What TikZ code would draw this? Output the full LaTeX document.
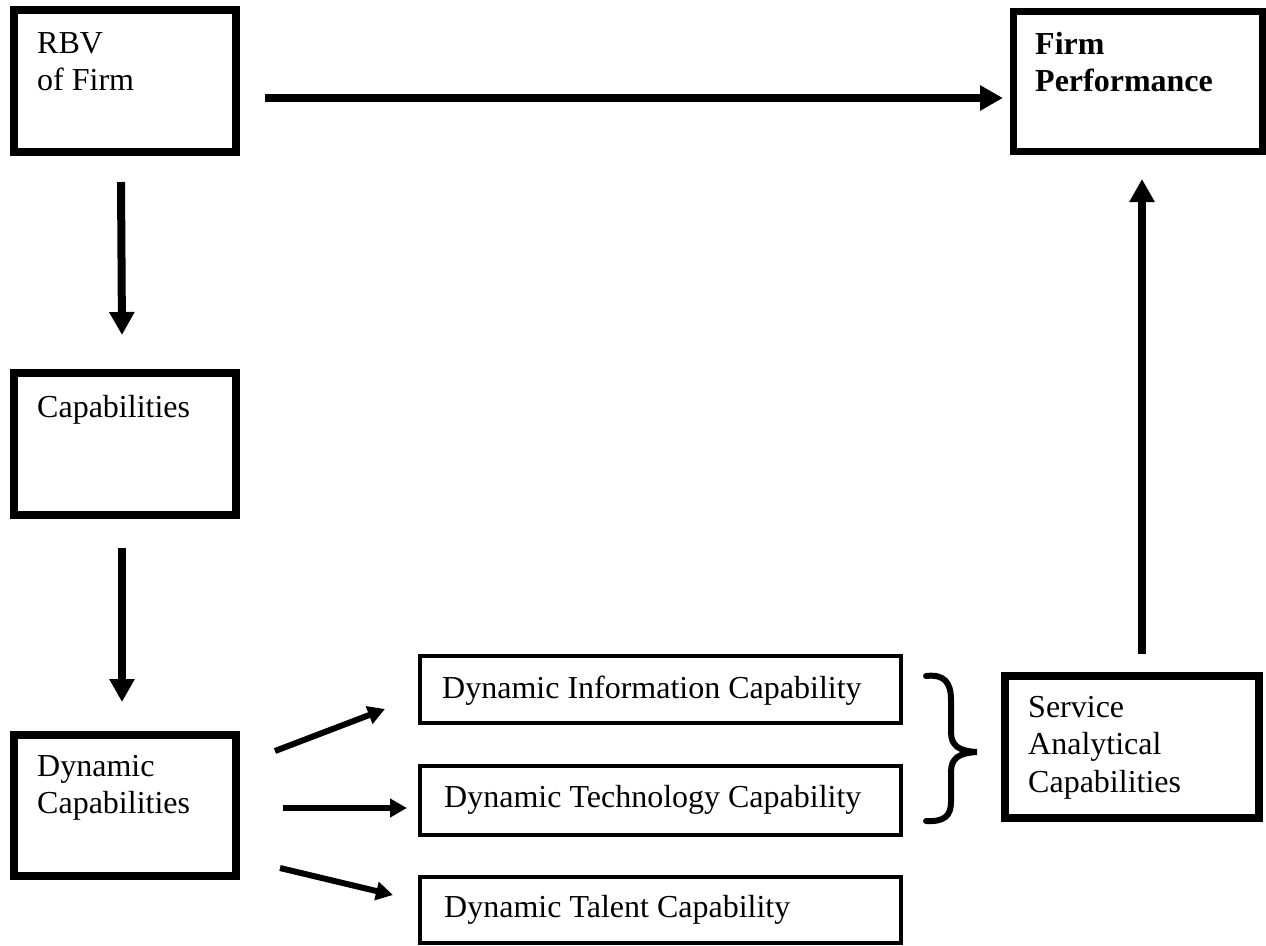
\documentclass[tikz,border=0pt]{standalone}
\usepackage{fontspec}
\setmainfont{Liberation Serif}
\usetikzlibrary{arrows.meta}
\begin{document}
\begin{tikzpicture}[x=1pt,y=-1pt,
  heavybox/.style={draw=black, line width=8pt, inner sep=0pt, rectangle},
  lightbox/.style={draw=black, line width=4pt, inner sep=0pt, rectangle},
  lbl/.style={anchor=north west, inner sep=0pt, align=left,
              font=\fontsize{32}{37.5}\selectfont},
  bigarrow/.style={line width=8pt, -{Triangle[length=23pt,width=24pt]}},
  smallarrow/.style={line width=6pt, -{Triangle[length=17pt,width=18pt]}},
  bracket/.style={line width=6pt, line cap=round},
]
\fill[white] (0,0) rectangle (1266,945);
\useasboundingbox (0,0) rectangle (1266,945);

% boxes
\node[heavybox, minimum width=222pt, minimum height=142pt] (rbv) at (125,81) {};
\node[heavybox, line width=7pt, minimum width=249pt, minimum height=140pt] (perf) at (1137.5,81) {};
\node[heavybox, minimum width=222pt, minimum height=142pt] (cap) at (125,444) {};
\node[heavybox, minimum width=222pt, minimum height=141pt] (dyn) at (125,805.5) {};
\node[heavybox, minimum width=254pt, minimum height=142pt] (sac) at (1132,747) {};
\node[lightbox, minimum width=481pt, minimum height=67pt] (info) at (660.5,689.5) {};
\node[lightbox, minimum width=481pt, minimum height=69pt] (tech) at (660.5,800.5) {};
\node[lightbox, minimum width=481pt, minimum height=66pt] (talent) at (660.5,910) {};

% box texts
\node[lbl] (rbvtxt) at (37,32) {RBV\\of Firm};
\node[lbl, font=\fontsize{32}{37.5}\selectfont\bfseries] (perftxt) at (1035,32) {Firm\\Performance};
\node[lbl] (captxt) at (37,395) {Capabilities};
\node[lbl] (dyntxt) at (37,755) {Dynamic\\Capabilities};
\node[lbl] (sactxt) at (1028,696) {Service\\Analytical\\Capabilities};
\node[lbl] (infotxt) at (442,676) {Dynamic Information Capability};
\node[lbl] (techtxt) at (444,785) {Dynamic Technology Capability};
\node[lbl] (talenttxt) at (444,895) {Dynamic Talent Capability};

% arrow end points
\coordinate (rbvR) at (265,98);   \coordinate (perfL) at (1003,98);
\coordinate (rbvB) at (121,182);  \coordinate (capT) at (122,335);
\coordinate (capB) at (122,548);  \coordinate (dynT) at (122,702);
\coordinate (sacT) at (1142,654); \coordinate (perfB) at (1142,179);
\coordinate (dynA) at (275,751);  \coordinate (infoL) at (385,709);
\coordinate (dynB) at (283,808);  \coordinate (techL) at (407,808);
\coordinate (dynC) at (280,868);  \coordinate (talentL) at (393,895);

\draw[bigarrow] (rbvR) -- (perfL);
\draw[bigarrow] (rbvB) -- (capT);
\draw[bigarrow] (capB) -- (dynT);
\draw[bigarrow] (sacT) -- (perfB);
\draw[smallarrow] (dynA) -- (infoL);
\draw[smallarrow] (dynB) -- (techL);
\draw[smallarrow] (dynC) -- (talentL);

% curly bracket grouping information and technology capabilities
\draw[bracket] (926,676) .. controls (944,674) and (951,682) .. (951,700)
  -- (951,732) .. controls (951,746) and (959,751) .. (977,752)
  .. controls (959,753) and (951,758) .. (951,772)
  -- (951,802) .. controls (951,816) and (944,822) .. (926,821);
\end{tikzpicture}
\end{document}
